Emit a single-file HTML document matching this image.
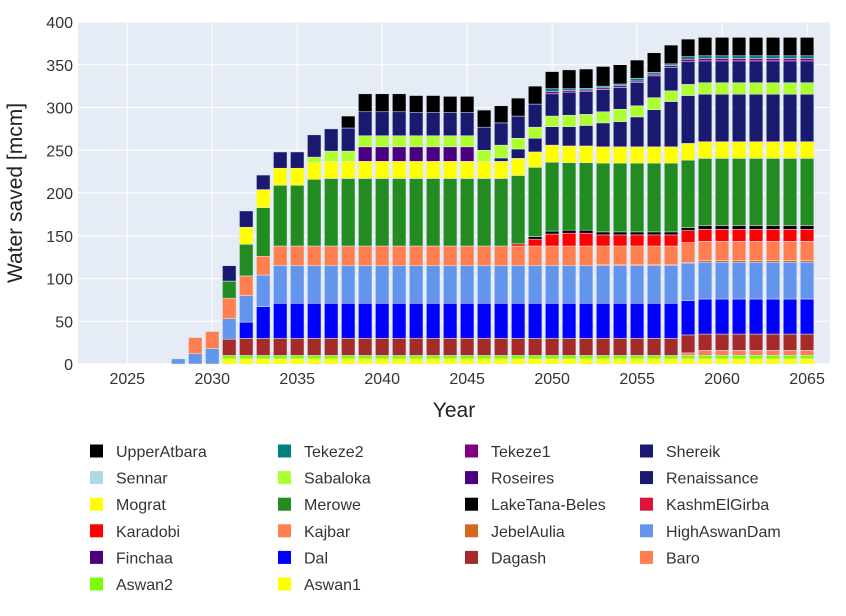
<!DOCTYPE html>
<html><head><meta charset="utf-8"><style>
body{margin:0;background:#fff;font-family:"Liberation Sans",sans-serif;}
svg text{font-family:"Liberation Sans",sans-serif;}
</style></head><body>
<svg id="chart" width="846" height="611" xmlns="http://www.w3.org/2000/svg">
<rect x="78" y="22" width="752" height="342" fill="#e5ecf6"/>
<g id="grid"></g><g id="bars"></g><g id="axes"></g><g id="legend"></g>
<text x="454" y="417" font-size="21" text-anchor="middle" fill="#222">Year</text>
<text transform="translate(22,193) rotate(-90)" font-size="21" text-anchor="middle" fill="#222">Water saved [mcm]</text>
</svg>
<script>
const years=[];for(let y=2028;y<=2065;y++)years.push(y);
const r7=v=>[v,v,v,v,v,v,v];
const Aswan1=[0,0,0,6,6,6,6,6,6,6,6,6,6,6,6,6,6,6,6,6,6,6,6,6,6,6,6,6,6,6,6,...r7(6)];
const Aswan2=[0,0,0,4,4,4,4,4,4,4,4,4,4,4,4,4,4,4,4,4,4,4,4,4,4,4,4,4,4,4,4,...r7(4)];
const Baro=[0,0,0,0,0,0,0,0,0,0,0,0,0,0,0,0,0,0,0,0,0,0,0,0,0,0,0,0,0,0,3,...r7(6)];
const Dagash=[0,0,0,19,20,20,20,20,20,20,20,20,20,20,20,20,20,20,20,20,20,20,20,20,20,20,20,20,20,20,21,...r7(19)];
const Dal=[0,0,0,0,19,37,41,41,41,41,41,41,41,41,41,41,41,41,41,41,41,41,41,41,41,41,41,41,41,41,40,...r7(41)];
const Finchaa=[0,0,0,0,0,0,0,0,0,0,0,0,0,0,0,0,0,0,0,0,0,0,0,0,0,0,0,0,0,0,0,...r7(0)];
const HighAswanDam=[6,12,18,24,31,37,44,44,44,44,44,44,44,44,44,44,44,44,44,44,44,44,44,44,44,44,44,44,44,44,44,...r7(43)];
const JebelAulia=[0,0,0,0,0,0,0,0,0,0,0,0,0,0,0,0,0,0,0,0,0,0,0,0,0,1,1,1,1,1,1,...r7(2)];
const Kajbar=[0,19,20,24,23,22,23,23,23,23,23,23,23,23,23,23,23,23,23,23,23,23,23,23,23,22,22,22,22,22,23,...r7(22.5)];
const Karadobi=[0,0,0,0,0,0,0,0,0,0,0,0,0,0,0,0,0,0,0,0,2.5,8,14,15,15,13,13,13,13,13,14,...r7(14)];
const KashmElGirba=[0,0,0,0,0,0,0,0,0,0,0,0,0,0,0,0,0,0,0,0,0,0,0,0,0,0,0,0,0,0,0,...r7(0)];
const LakeTanaBeles=[0,0,0,0,0,0,0,0,0,0,0,0,0,0,0,0,0,0,0,0,0,3,3.5,3.5,3.5,3.5,3.5,3.5,3.5,3.5,3.5,...r7(4.5)];
const Merowe=[0,0,0,20,37,57,71,71,78,79,79,79,79,79,79,79,79,79,79,79,80,81,80.5,79,79,80.5,80.5,80.5,80.5,80.5,79,...r7(78.5)];
const Mograt=[0,0,0,0,20,21,20,20,20,20,20,20,20,20,20,20,20,20,20,20,20,18,20,19.5,19.5,19,19,19,19,19,19.5,...r7(19.5)];
const Renaissance=[0,0,0,0,0,0,0,0,0,0,0,0,0,0,0,0,0,0,0,4,11,16,21.5,22.5,24,28,29.5,35,43.5,53,56,...r7(55.5)];
const Roseires=[0,0,0,0,0,0,0,0,0,0,0,17,17,17,17,17,17,17,0,0,0,0,0,0,0,0,0,0,0,0,0,...r7(0)];
const Sabaloka=[0,0,0,0,0,0,0,0,6,12,12,13,13,13,13,13,13,13,13,15,12.5,13,12.5,13.5,13,13,14.5,13,14,12.5,13,...r7(13.5)];
const Sennar=[0,0,0,0,0,0,0,0,0,0,0,0,0,0,0,0,0,0,0,0,0,0,0,0,0,0,0,0,0,0,0,...r7(0)];
const Shereik=[0,0,0,18,19,17,19,19,26,26,27,28,28,28,27,27,27,27,27,26,26,27,26,27,26.5,26,25.5,27,25.5,27.5,26.5,...r7(25.5)];
const Tekeze1=[0,0,0,0,0,0,0,0,0,0,0,0,0,0,0,0,0,0,0,0,0,0,2.5,2,2,2,2,2,2,2,3,...r7(3)];
const Tekeze2=[0,0,0,0,0,0,0,0,0,0,0,0,0,0,0,0,0,0,0,0,0,0,3.5,2,2,2,2,3,2,2,3,...r7(3)];
const UpperAtbara=[0,0,0,0,0,0,0,0,0,0,14,21,21,21,20,20,19,19,20,20,21,21,20,22,22.5,23,22.5,21.5,23,22,20.5,...r7(21.5)];
const seriesNames=["Aswan1","Aswan2","Baro","Dagash","Dal","Finchaa","HighAswanDam","JebelAulia","Kajbar","Karadobi","KashmElGirba","LakeTana-Beles","Merowe","Mograt","Renaissance","Roseires","Sabaloka","Sennar","Shereik","Tekeze1","Tekeze2","UpperAtbara"];
const seriesVals=[Aswan1,Aswan2,Baro,Dagash,Dal,Finchaa,HighAswanDam,JebelAulia,Kajbar,Karadobi,KashmElGirba,LakeTanaBeles,Merowe,Mograt,Renaissance,Roseires,Sabaloka,Sennar,Shereik,Tekeze1,Tekeze2,UpperAtbara];
const colors=["#ffff00","#7cfc00","#ff7f50","#a52a2a","#0000ff","#4b0082","#6495ed","#d2691e","#ff7f50","#ff0000","#dc143c","#000000","#228b22","#ffff00","#191970","#4b0082","#adff2f","#add8e6","#191970","#800080","#008080","#000000"];
const yTicks=[0,50,100,150,200,250,300,350,400];
const xTicks=[2025,2030,2035,2040,2045,2050,2055,2060,2065];
const NS="http://www.w3.org/2000/svg";
const X0=78,X1=830,Y0=364,Y1=22,xmin=2022.1,xmax=2066.35,ymax=400;
const xs=v=>X0+(v-xmin)/(xmax-xmin)*(X1-X0);
const ys=v=>Y0-v/ymax*(Y0-Y1);
function mk(tag,attrs,parent){const e=document.createElementNS(NS,tag);for(const k in attrs)e.setAttribute(k,attrs[k]);parent.appendChild(e);return e;}
const grid=document.getElementById('grid'),axes=document.getElementById('axes'),bars=document.getElementById('bars'),leg=document.getElementById('legend');
yTicks.forEach(t=>{
 const l=mk('line',{x1:X0,x2:X1,y1:ys(t),y2:ys(t),stroke:'#fff','stroke-width':1},grid);
 
 
 const tx=mk('text',{x:X0-5,y:ys(t)+6,'font-size':16,'text-anchor':'end',fill:'#333'},axes);
 tx.textContent=t;
 
 
});
xTicks.forEach(t=>{
 const l=mk('line',{x1:xs(t),x2:xs(t),y1:Y1,y2:Y0,stroke:'#fff','stroke-width':1},grid);
 
 
 const tx=mk('text',{x:xs(t),y:Y0+20,'font-size':16,'text-anchor':'middle',fill:'#333'},axes);
 tx.textContent=t;
 
 
});
const bw=(X1-X0)/(xmax-xmin)*0.8;
years.forEach((yr,i)=>{
 let acc=0;
 seriesVals.forEach((arr,s)=>{
  const v=arr[i];if(!v)return;
  const top=acc+v;
  const r=mk('rect',{x:xs(yr)-bw/2,y:ys(top),width:bw,height:ys(acc)-ys(top),fill:colors[s],stroke:'#e5ecf6','stroke-width':0.5},bars);
  
  
  acc=top;
 });
});
const legOrder=seriesNames.map((n,i)=>i).reverse();
const colX=[90,278,465,640],rowY0=451,rowH=26.6;
legOrder.forEach((s,k)=>{
 const c=k%4,r=Math.floor(k/4);
 const g=mk('g',{},leg);
 
 
 mk('rect',{x:colX[c],y:rowY0+r*rowH-6.5,width:13,height:13,fill:colors[s]},g);
 const t=mk('text',{x:colX[c]+26,y:rowY0+r*rowH+6,'font-size':16,fill:'#333'},g);
 t.textContent=seriesNames[s];
});
</script>
</body></html>
